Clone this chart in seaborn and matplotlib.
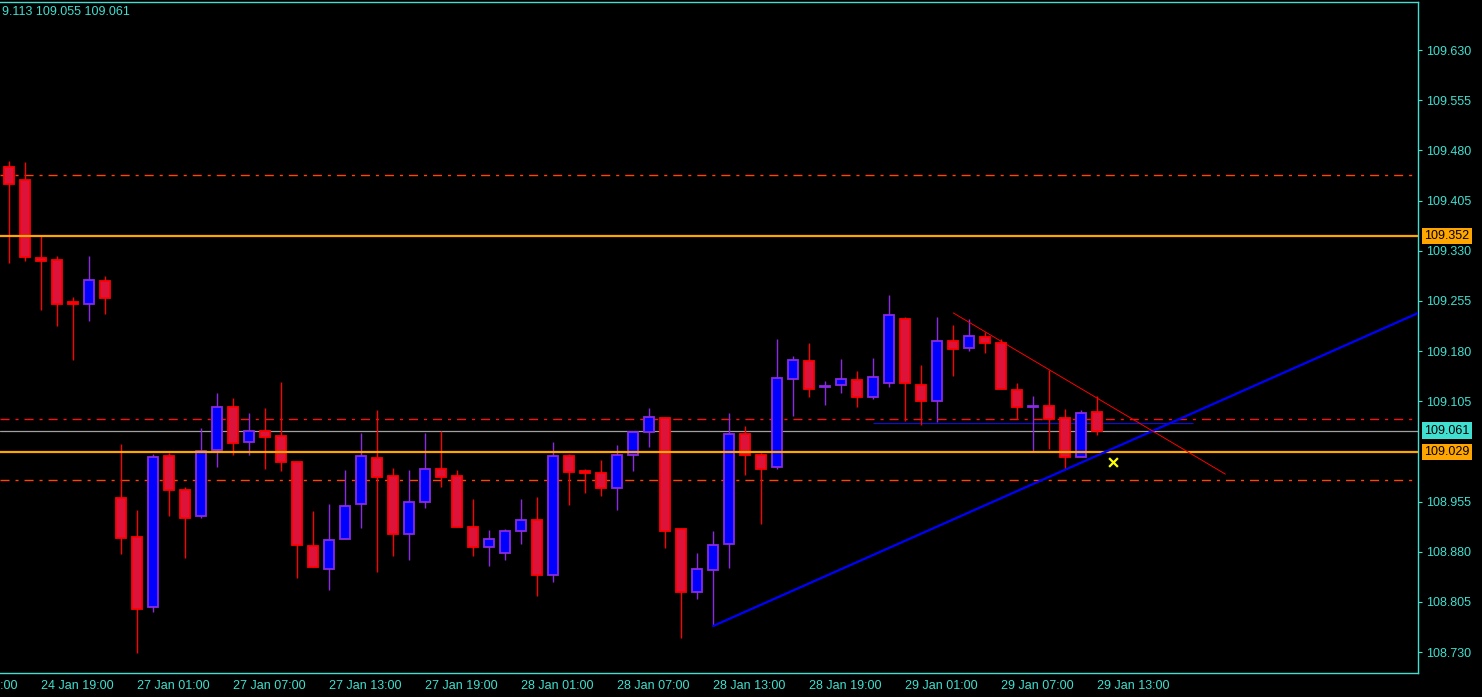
import matplotlib
matplotlib.use('Agg')
import matplotlib.pyplot as plt
import matplotlib.transforms as mtransforms
import pandas as pd
import seaborn as sns

# USDJPY H1 candles, 24 Jan 17:00 .. 29 Jan 13:00
opens = [109.455, 109.436, 109.319, 109.316, 109.253, 109.251, 109.285,
         108.961, 108.902, 108.797, 109.023, 108.972, 108.933, 109.032,
         109.097, 109.044, 109.060, 109.053, 109.014, 108.888, 108.854,
         108.899, 108.951, 109.020, 108.993, 108.906, 108.954, 109.003,
         108.993, 108.917, 108.887, 108.878, 108.911, 108.927, 108.845,
         109.023, 109.000, 108.997, 108.975, 109.024, 109.059, 109.080,
         108.914, 108.819, 108.852, 108.891, 109.056, 109.024, 109.007,
         109.138, 109.165, 109.127, 109.129, 109.136, 109.112, 109.132,
         109.228, 109.129, 109.106, 109.195, 109.184, 109.201, 109.192,
         109.122, 109.097, 109.098, 109.080, 109.022, 109.089]
highs = [109.464, 109.463, 109.352, 109.322, 109.261, 109.322, 109.292,
         109.041, 108.942, 109.026, 109.028, 108.976, 109.065, 109.117,
         109.110, 109.087, 109.095, 109.134, 109.016, 108.941, 108.952,
         109.002, 109.058, 109.092, 109.005, 109.002, 109.058, 109.060,
         109.002, 108.959, 108.913, 108.914, 108.959, 108.962, 109.044,
         109.026, 109.003, 109.017, 109.040, 109.059, 109.095, 109.082,
         108.914, 108.878, 108.911, 109.087, 109.068, 109.028, 109.198,
         109.173, 109.192, 109.135, 109.168, 109.150, 109.170, 109.264,
         109.231, 109.159, 109.231, 109.219, 109.228, 109.208, 109.198,
         109.132, 109.113, 109.151, 109.093, 109.092, 109.113]
lows = [109.312, 109.314, 109.241, 109.217, 109.167, 109.225, 109.236,
        108.877, 108.728, 108.790, 108.934, 108.871, 108.931, 109.007,
        109.025, 109.025, 109.004, 109.001, 108.840, 108.857, 108.822,
        108.899, 108.916, 108.849, 108.873, 108.868, 108.946, 108.976,
        108.917, 108.873, 108.859, 108.867, 108.892, 108.814, 108.834,
        108.950, 108.968, 108.964, 108.943, 109.000, 109.037, 108.885,
        108.751, 108.810, 108.769, 108.856, 108.995, 108.922, 109.004,
        109.083, 109.112, 109.100, 109.118, 109.097, 109.109, 109.126,
        109.076, 109.069, 109.074, 109.142, 109.180, 109.177, 109.123,
        109.078, 109.031, 109.033, 109.004, 109.022, 109.055]
closes = [109.430, 109.321, 109.315, 109.251, 109.251, 109.287, 109.260,
          108.901, 108.795, 109.021, 108.973, 108.931, 109.031, 109.097,
          109.042, 109.060, 109.051, 109.014, 108.890, 108.857, 108.897,
          108.949, 109.023, 108.992, 108.907, 108.955, 109.003, 108.991,
          108.917, 108.887, 108.899, 108.911, 108.927, 108.845, 109.023,
          108.999, 108.998, 108.975, 109.024, 109.059, 109.081, 108.911,
          108.819, 108.854, 108.890, 109.056, 109.024, 109.004, 109.139,
          109.166, 109.124, 109.127, 109.138, 109.112, 109.141, 109.234,
          109.132, 109.106, 109.195, 109.183, 109.202, 109.192, 109.124,
          109.097, 109.097, 109.078, 109.022, 109.087, 109.061]

time_ticks = [2, 8, 14, 20, 26, 32, 38, 44, 50, 56, 62, 68]
time_labels = ['24 Jan 19:00', '27 Jan 01:00', '27 Jan 07:00', '27 Jan 13:00',
               '27 Jan 19:00', '28 Jan 01:00', '28 Jan 07:00', '28 Jan 13:00',
               '28 Jan 19:00', '29 Jan 01:00', '29 Jan 07:00', '29 Jan 13:00']
# 109.030 is hidden behind the 109.029 box on the original scale
price_ticks = [108.730, 108.805, 108.880, 108.955, 109.105, 109.180,
               109.255, 109.330, 109.405, 109.480, 109.555, 109.630]

resistance = 109.352
support = 109.029
bid = 109.061
dash_levels = [109.443, 109.078, 108.987]
blue_level = 109.072
trend_up_x, trend_up_y = [44, 89], [108.769, 109.247]
trend_down_x, trend_down_y = [59, 76], [109.237, 108.996]
cross_x, cross_y = [69], [109.014]

CYAN = '#40E0D0'

df = pd.DataFrame({'o': opens, 'h': highs, 'l': lows, 'c': closes})
df['i'] = range(len(df))
df['up'] = df['c'] >= df['o']

sns.set_style('dark', {'axes.facecolor': 'black', 'figure.facecolor': 'black',
                       'axes.edgecolor': CYAN, 'grid.color': 'black'})
plt.rcParams['font.family'] = ['Liberation Sans', 'DejaVu Sans']
plt.rcParams['lines.scale_dashes'] = False

fig = plt.figure(figsize=(14.82, 6.97), dpi=100)
ax = fig.add_axes([0, 24 / 697, 1418 / 1482, 671 / 697])
ax.set_facecolor('black')

# horizontal levels
dd = (0, (6.5, 4.3, 2.2, 4.3))
ax.axhline(dash_levels[0], color='#FF4500', lw=1.0, ls=dd, zorder=1)
ax.axhline(dash_levels[1], color='#FF1010', lw=1.0, ls=dd, zorder=1)
ax.axhline(dash_levels[2], color='#FF4500', lw=1.0, ls=dd, zorder=1)
ax.axhline(bid, color='#A0A0A0', lw=0.9, zorder=1)
ax.hlines(blue_level, 54, 74, color='#1010C8', lw=0.9, zorder=1)

# candles
bull_edge, bull_fill = '#8A2BE2', '#0000FF'
bear_edge, bear_fill = '#FF0000', '#DC143C'
edges = [bull_edge if u else bear_edge for u in df['up']]
fills = [bull_fill if u else bear_fill for u in df['up']]
ax.vlines(df['i'], df['l'], df['h'], colors=edges, lw=1.0, zorder=2)
bottoms = df[['o', 'c']].min(axis=1)
heights = (df['c'] - df['o']).abs().clip(lower=0.0015)
ax.bar(df['i'], heights, bottom=bottoms, width=0.63, color=fills,
       edgecolor=edges, linewidth=1.3, zorder=3)

ax.axhline(resistance, color='#FFA500', lw=1.6, zorder=4)
ax.axhline(support, color='#FFA500', lw=1.6, zorder=4)

# trend lines
ax.plot(trend_up_x, trend_up_y, color='#0000FF', lw=1.6, zorder=5)
ax.plot(trend_down_x, trend_down_y, color='#FF0000', lw=0.7, zorder=5)
sns.scatterplot(x=cross_x, y=cross_y, marker='x', s=40, color='#FFFF00',
                linewidth=1.6, ax=ax, zorder=6)

ax.set_xlim(-0.58, 88.04)
ax.set_ylim(108.6986, 109.702)
ax.grid(False)

for side in ['top', 'right', 'bottom']:
    ax.spines[side].set_color(CYAN)
    ax.spines[side].set_linewidth(1.0)
ax.spines['left'].set_visible(False)

ax.yaxis.tick_right()
ax.set_yticks(price_ticks)
ax.set_yticklabels(['%.3f' % p for p in price_ticks])
ax.tick_params(axis='y', colors=CYAN, length=3, width=0.8, pad=3,
               labelsize=9, direction='out')
ax.set_xticks(time_ticks)
ax.set_xticklabels(time_labels, ha='left')
ax.tick_params(axis='x', colors=CYAN, length=3, width=0.8, pad=2,
               labelsize=9, direction='out')
ax.tick_params(left=False, labelleft=False)

# label of the previous tick, cut by the left edge as in the terminal
ax.text(-4, -0.0105, '24 Jan 13:00',
        transform=mtransforms.blended_transform_factory(ax.transData, ax.transAxes),
        color=CYAN, fontsize=9, ha='left', va='top', clip_on=False)

# price boxes on the right scale
trans = mtransforms.blended_transform_factory(ax.transAxes, ax.transData)
for val, col in [(resistance, '#FFA500'), (bid, CYAN), (support, '#FFA500')]:
    ax.text(1.0045, val, '%.3f' % val, transform=trans, color='black', fontsize=9,
            ha='left', va='center', clip_on=False,
            bbox=dict(boxstyle='square,pad=0.18', facecolor=col, edgecolor='none'))

fig.text(2 / 1482, 1 - 12 / 697, '9.113 109.055 109.061', color=CYAN,
         fontsize=9, ha='left', va='center')

fig.savefig('out.png', dpi=100, facecolor='black')
